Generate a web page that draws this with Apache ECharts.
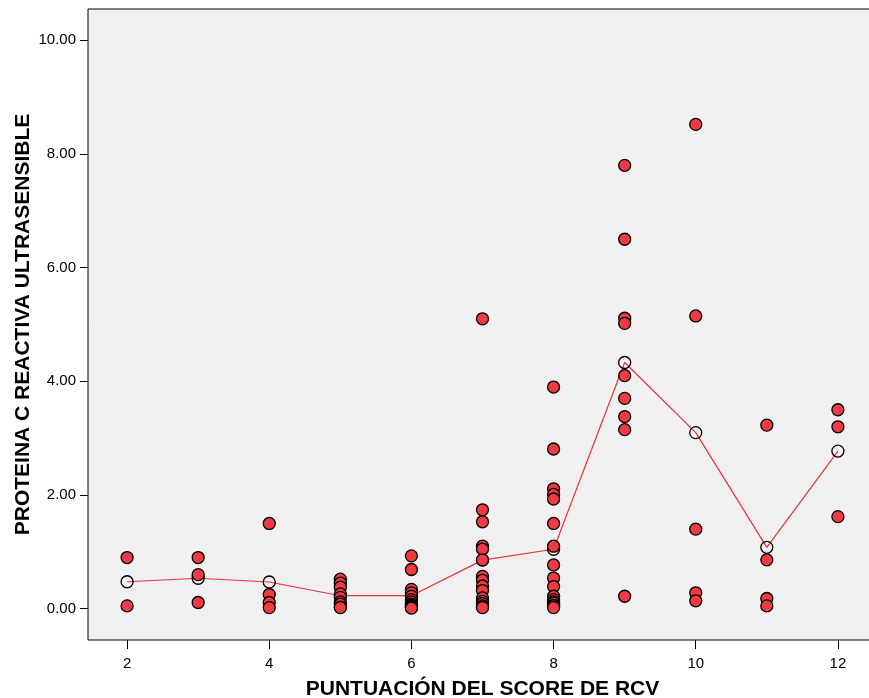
<!DOCTYPE html>
<html>
<head>
<meta charset="utf-8">
<script src="https://cdn.jsdelivr.net/npm/echarts@6/dist/echarts.min.js"></script>
<style>
  html, body { margin: 0; padding: 0; background: #ffffff; }
  #chart { width: 869px; height: 698px; }
</style>
</head>
<body>
<div id="chart"></div>
<script>
// CRP ultrasensitive values grouped by cardiovascular risk score
const scores = [2, 3, 4, 5, 6, 7, 8, 9, 10, 11, 12];
const crpScore2 = [0.90, 0.05];
const crpScore3 = [0.90, 0.60, 0.11];
const crpScore4 = [1.50, 0.25, 0.11, 0.02];
const crpScore5 = [0.52, 0.45, 0.38, 0.26, 0.20, 0.12, 0.08, 0.03, 0.02];
const crpScore6 = [0.93, 0.69, 0.34, 0.28, 0.22, 0.16, 0.12, 0.08, 0.06, 0.04, 0.03, 0.02, 0.01];
const crpScore7 = [5.10, 1.74, 1.53, 1.10, 1.05, 0.86, 0.57, 0.50, 0.40, 0.32, 0.19, 0.13, 0.09, 0.05, 0.03, 0.02];
const crpScore8 = [3.90, 2.81, 2.11, 2.01, 1.93, 1.50, 1.10, 0.77, 0.54, 0.39, 0.22, 0.16, 0.12, 0.10, 0.06, 0.05, 0.02];
const crpScore9 = [7.80, 6.50, 5.11, 5.02, 4.10, 3.70, 3.38, 3.15, 0.22];
const crpScore10 = [8.52, 5.15, 1.40, 0.28, 0.14];
const crpScore11 = [3.23, 0.86, 0.18, 0.05];
const crpScore12 = [3.50, 3.20, 1.62];

const yTicks = [0, 2, 4, 6, 8, 10];
const xTicks = [2, 4, 6, 8, 10, 12];

const groups = [crpScore2, crpScore3, crpScore4, crpScore5, crpScore6, crpScore7,
                crpScore8, crpScore9, crpScore10, crpScore11, crpScore12];

const points = [];
groups.forEach((vals, i) => vals.forEach(v => points.push([scores[i], v])));

// group means for the connecting line
const means = groups.map((vals, i) =>
  [scores[i], vals.reduce((a, b) => a + b, 0) / vals.length]);

const chart = echarts.init(document.getElementById('chart'), null, { renderer: 'canvas' });

const axisFont = { fontFamily: 'Liberation Sans, Arial, sans-serif', color: '#000' };

chart.setOption({
  animation: false,
  backgroundColor: '#ffffff',
  grid: {
    left: 88, top: 9, right: -8, bottom: 58,
    containLabel: false,
    outerBoundsMode: 'none',
    show: true,
    backgroundColor: '#f0f0f0',
    borderColor: '#000',
    borderWidth: 1
  },
  xAxis: {
    type: 'value',
    min: 1.45, max: 12.55,
    splitLine: { show: false },
    axisLine: { show: false, onZero: false },
    axisTick: { show: true, length: 9, inside: false, customValues: xTicks,
                lineStyle: { color: '#000', width: 1 } },
    axisLabel: { customValues: xTicks, fontSize: 15, margin: 16, ...axisFont },
    name: 'PUNTUACIÓN DEL SCORE DE RCV',
    nameLocation: 'middle',
    nameGap: 39,
    nameMoveOverlap: false,
    nameTextStyle: { fontSize: 21, fontWeight: 'bold', ...axisFont }
  },
  yAxis: {
    type: 'value',
    min: -0.55, max: 10.55,
    splitLine: { show: false },
    axisLine: { show: false, onZero: false },
    axisTick: { show: true, length: 8, customValues: yTicks,
                lineStyle: { color: '#000', width: 1 } },
    axisLabel: { customValues: yTicks, fontSize: 15, margin: 12,
                 formatter: v => v.toFixed(2), ...axisFont },
    name: 'PROTEINA C REACTIVA ULTRASENSIBLE',
    nameLocation: 'middle',
    nameGap: 54,
    nameMoveOverlap: false,
    nameTextStyle: { fontSize: 21, fontWeight: 'bold', ...axisFont }
  },
  series: [
    {
      type: 'line',
      data: means,
      z: 2,
      symbol: 'circle',
      symbolSize: 12,
      lineStyle: { color: '#e8333b', width: 1.2 },
      itemStyle: { color: 'rgba(0,0,0,0)', borderColor: '#000', borderWidth: 1.3 }
    },
    {
      type: 'scatter',
      data: points,
      z: 3,
      symbol: 'circle',
      symbolSize: 12,
      itemStyle: { color: '#ee3a42', borderColor: '#000', borderWidth: 1.3, opacity: 1 }
    }
  ]
});
</script>
</body>
</html>
